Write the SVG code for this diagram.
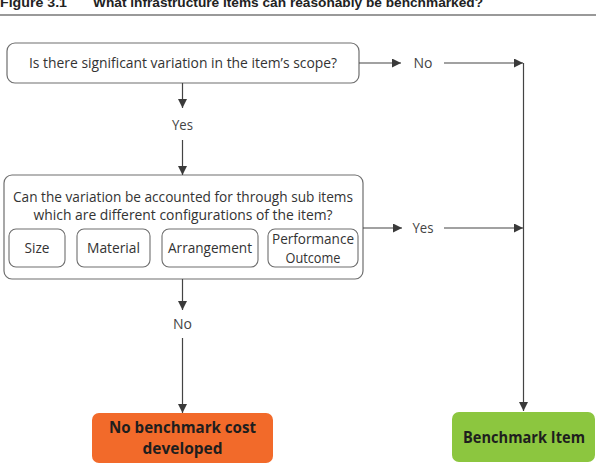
<svg xmlns="http://www.w3.org/2000/svg" width="596" height="470" viewBox="0 0 596 470">
<defs>
<marker id="ah" viewBox="0 0 10 10" refX="10" refY="5" markerWidth="9" markerHeight="9" markerUnits="userSpaceOnUse" orient="auto">
<path d="M0,0 L10,5 L0,10 z" fill="#3a3a3a"/>
</marker>
<style>
.box{fill:#fff;stroke:#6e6e6e;stroke-width:1.2}
.sub{fill:#fff;stroke:#6e6e6e;stroke-width:1.1}
.t{font-family:"Open Sans","Liberation Sans",sans-serif;font-size:14px;fill:#333;text-anchor:middle}
.lbl{font-family:"Open Sans","Liberation Sans",sans-serif;font-size:14px;fill:#444;text-anchor:middle}
.b{font-family:"Open Sans","Liberation Sans",sans-serif;font-size:15.5px;font-weight:bold;fill:#1e1e1e;text-anchor:middle}
.c{fill:none;stroke:#444;stroke-width:1.2}
.title{font-family:"Liberation Sans",Arial,sans-serif;font-size:13px;font-weight:bold;fill:#222}
</style>
</defs>
<rect width="596" height="470" fill="#fff"/>
<g id="title">
<text class="title" x="0" y="7" textLength="67" lengthAdjust="spacingAndGlyphs">Figure 3.1</text>
<text class="title" x="93" y="7" textLength="390" lengthAdjust="spacingAndGlyphs">What infrastructure items can reasonably be benchmarked?</text>
<line x1="0" y1="15" x2="596" y2="15" stroke="#777" stroke-width="1.5"/>
</g>
<g id="q1">
<rect class="box" x="7" y="43" width="352" height="40" rx="8"/>
<text class="t" x="183" y="68" textLength="308" lengthAdjust="spacingAndGlyphs">Is there significant variation in the item’s scope?</text>
</g>
<g id="q2">
<rect class="box" x="4" y="175" width="359" height="104" rx="8"/>
<text class="t" x="183" y="202" textLength="340" lengthAdjust="spacingAndGlyphs">Can the variation be accounted for through sub items</text>
<text class="t" x="183" y="220" textLength="299" lengthAdjust="spacingAndGlyphs">which are different configurations of the item?</text>
</g>
<g id="size">
<rect class="sub" x="9" y="229" width="56" height="38" rx="7"/>
<text class="t" x="37" y="253" textLength="25" lengthAdjust="spacingAndGlyphs">Size</text>
</g>
<g id="material">
<rect class="sub" x="77" y="229" width="73" height="38" rx="7"/>
<text class="t" x="113.5" y="253" textLength="53" lengthAdjust="spacingAndGlyphs">Material</text>
</g>
<g id="arrangement">
<rect class="sub" x="162" y="229" width="96" height="38" rx="7"/>
<text class="t" x="210" y="253" textLength="84" lengthAdjust="spacingAndGlyphs">Arrangement</text>
</g>
<g id="performance">
<rect class="sub" x="268" y="229" width="90" height="38" rx="7"/>
<text class="t" x="313" y="244" textLength="82" lengthAdjust="spacingAndGlyphs">Performance</text>
<text class="t" x="313" y="263" textLength="55" lengthAdjust="spacingAndGlyphs">Outcome</text>
</g>
<g id="nobench">
<rect x="92" y="413" width="181" height="50" rx="7" fill="#f26a2a"/>
<text class="b" x="182.5" y="433" textLength="147" lengthAdjust="spacingAndGlyphs">No benchmark cost</text>
<text class="b" x="182.5" y="454" textLength="80" lengthAdjust="spacingAndGlyphs">developed</text>
</g>
<g id="bench">
<rect x="452" y="412" width="143" height="50" rx="7" fill="#8cc63f"/>
<text class="b" x="524" y="443" textLength="122" lengthAdjust="spacingAndGlyphs">Benchmark Item</text>
</g>
<g id="connectors">
<line class="c" x1="359" y1="63" x2="401" y2="63" marker-end="url(#ah)"/>
<text class="lbl" x="423" y="68" textLength="19" lengthAdjust="spacingAndGlyphs">No</text>
<line class="c" x1="444" y1="63" x2="523" y2="63" marker-end="url(#ah)"/>
<line class="c" x1="523.5" y1="63" x2="523.5" y2="411" marker-end="url(#ah)"/>
<line class="c" x1="182.5" y1="83" x2="182.5" y2="108" marker-end="url(#ah)"/>
<text class="lbl" x="182.5" y="130" textLength="21" lengthAdjust="spacingAndGlyphs">Yes</text>
<line class="c" x1="182.5" y1="140" x2="182.5" y2="175" marker-end="url(#ah)"/>
<line class="c" x1="363" y1="228" x2="402" y2="228" marker-end="url(#ah)"/>
<text class="lbl" x="423" y="233" textLength="21" lengthAdjust="spacingAndGlyphs">Yes</text>
<line class="c" x1="444" y1="228" x2="523" y2="228" marker-end="url(#ah)"/>
<line class="c" x1="182.5" y1="279" x2="182.5" y2="310" marker-end="url(#ah)"/>
<text class="lbl" x="182.5" y="329" textLength="19" lengthAdjust="spacingAndGlyphs">No</text>
<line class="c" x1="182.5" y1="338" x2="182.5" y2="413" marker-end="url(#ah)"/>
</g>
</svg>
